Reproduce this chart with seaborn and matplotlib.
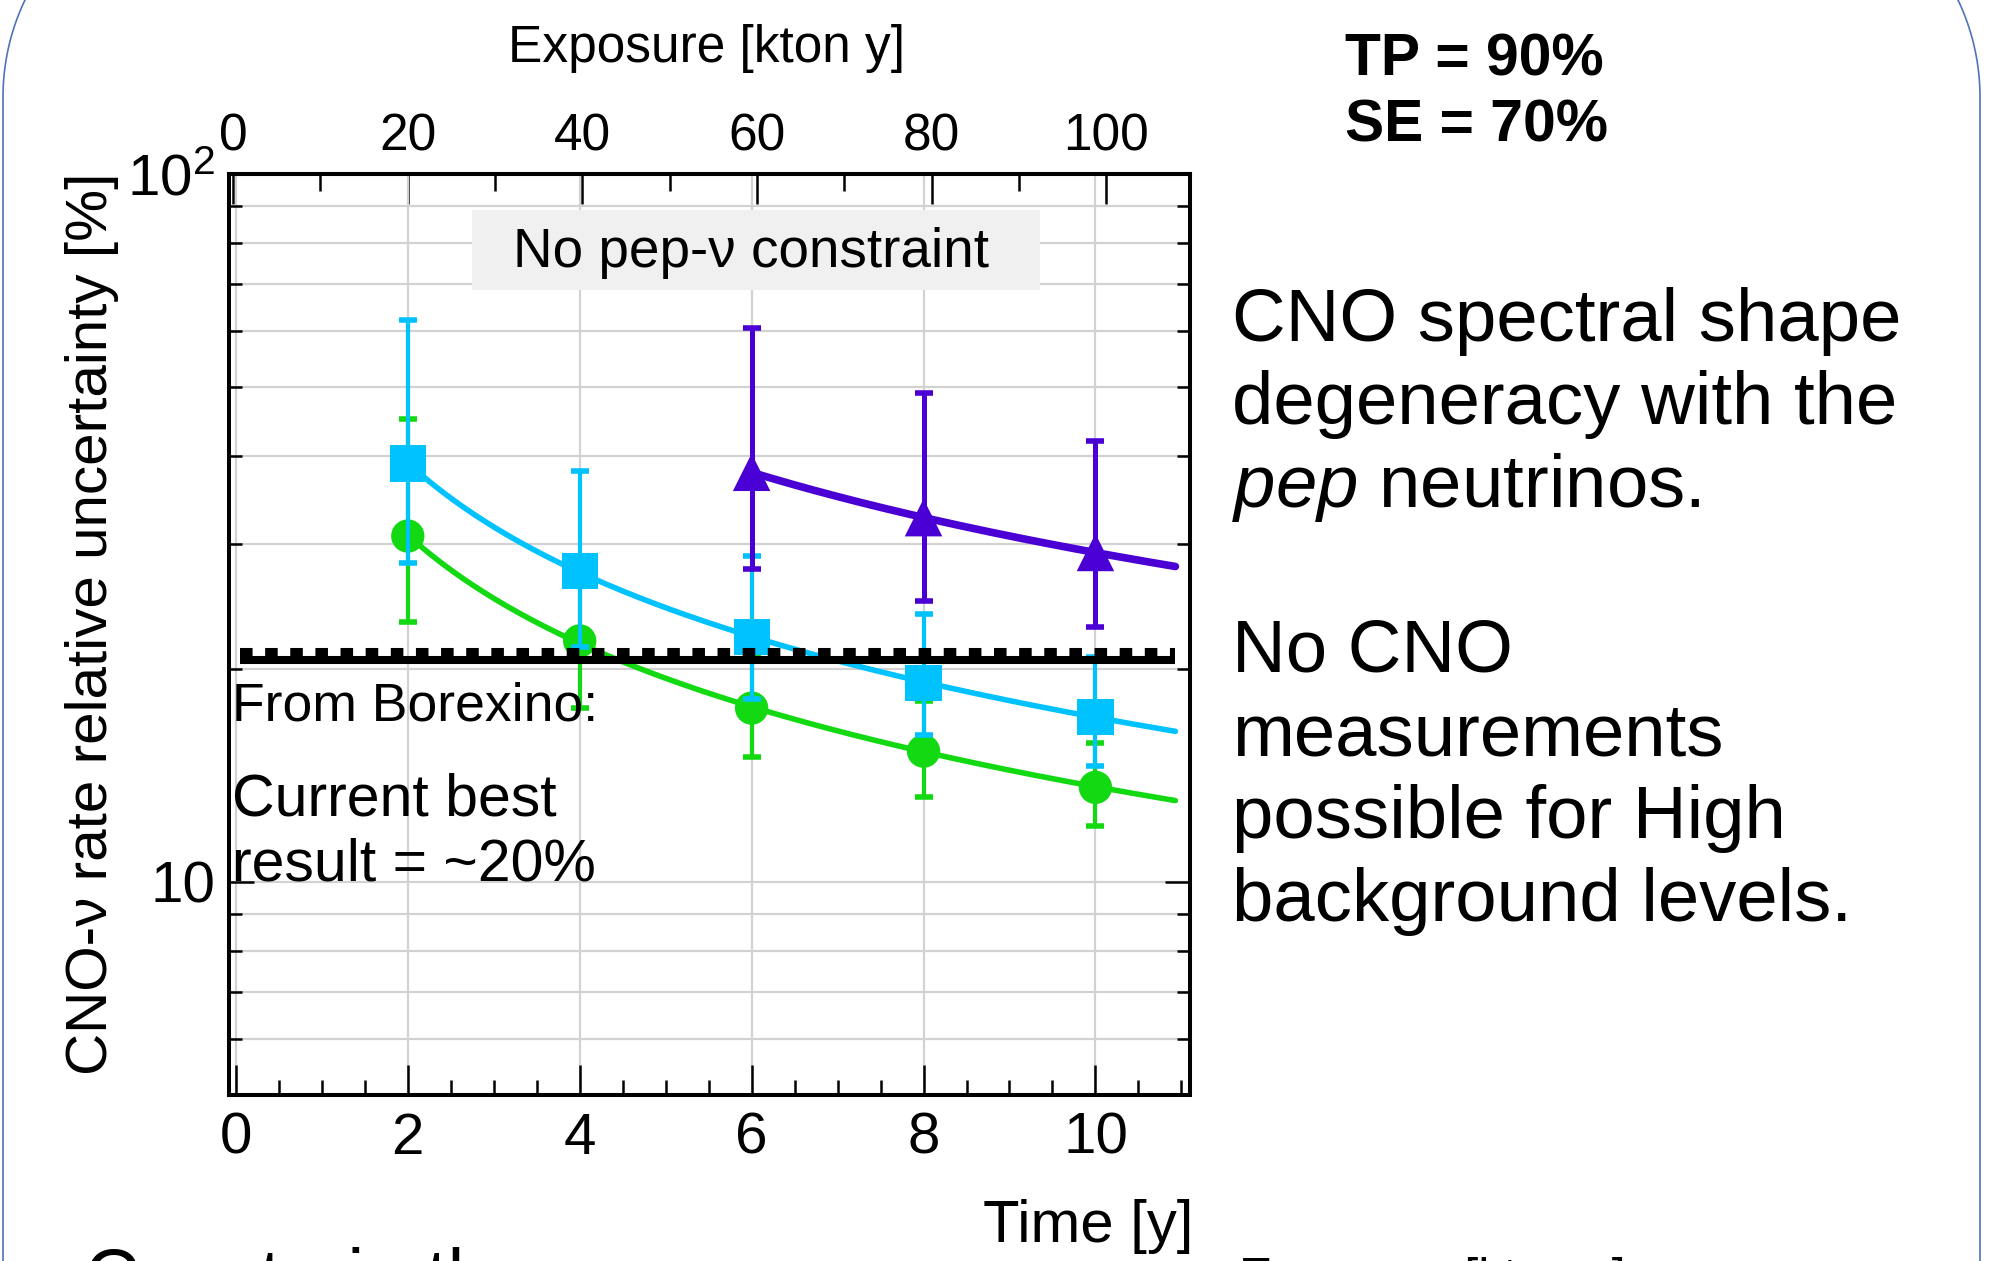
import numpy as np
import matplotlib
matplotlib.use("Agg")
import matplotlib.pyplot as plt
import seaborn as sns
from matplotlib import transforms, ticker
from matplotlib.patches import Rectangle
from matplotlib.lines import Line2D

# ---------------- data ----------------
time_years = [2, 4, 6, 8, 10]

green_val = [30.8, 21.9, 17.6, 15.3, 13.6]
green_lo = [23.3, 17.6, 15.0, 13.2, 12.0]
green_hi = [45.1, 27.0, 21.0, 18.0, 15.7]

cyan_val = [39.0, 27.5, 22.2, 19.1, 17.1]
cyan_lo = [28.2, 21.5, 18.1, 16.1, 14.6]
cyan_hi = [62.2, 38.0, 28.9, 23.9, 20.8]

purple_time = [6, 8, 10]
purple_val = [37.9, 32.7, 29.2]
purple_lo = [27.7, 24.9, 22.9]
purple_hi = [60.5, 49.0, 41.9]

borexino_best = 20.55          # current best result line [%]
exposure_per_year = 9.84       # kton y per year (top axis)
exposure_offset_years = 0.035  # small offset of the top axis

x_ticks = [0, 2, 4, 6, 8, 10]
exposure_ticks = [0, 20, 40, 60, 80, 100]
y_major = [10, 100]
y_minor = [6, 7, 8, 9, 20, 30, 40, 50, 60, 70, 80, 90]

# ---------------- style ----------------
sns.set_theme(style="white")
plt.rcParams["font.family"] = ["Liberation Sans", "DejaVu Sans"]
plt.rcParams["mathtext.fontset"] = "custom"
plt.rcParams["mathtext.rm"] = "Liberation Sans"
plt.rcParams["mathtext.it"] = "Liberation Sans:italic"
plt.rcParams["mathtext.bf"] = "Liberation Sans:bold"
for k in ["text.color", "axes.labelcolor", "xtick.color", "ytick.color", "axes.edgecolor"]:
    plt.rcParams[k] = "black"

GREEN = "#12d912"
CYAN = "#00c2ff"
PURPLE = "#4a00d4"
GRID = "#d2d2d2"

W, H = 1996, 1261
fig = plt.figure(figsize=(W / 100, H / 100), dpi=100)
fig.patch.set_facecolor("white")


def fx(px):
    return px / W


def fy(py):
    return (H - py) / H


ax = fig.add_axes([fx(229), fy(1095), (1190 - 229) / W, (1095 - 174) / H])
ax.set_yscale("log")
ax.set_xlim(-0.08, 11.10)
ax.set_ylim(5, 100)
ax.set_axisbelow(True)

ax.xaxis.set_major_locator(ticker.FixedLocator(x_ticks))
ax.xaxis.set_minor_locator(ticker.MultipleLocator(0.5))
ax.yaxis.set_major_locator(ticker.FixedLocator(y_major))
ax.yaxis.set_minor_locator(ticker.FixedLocator(y_minor))
ax.yaxis.set_minor_formatter(ticker.NullFormatter())
ax.yaxis.set_major_formatter(
    ticker.FuncFormatter(lambda v, p: "10" if v < 50 else r"$10^{2}$"))
ax.xaxis.grid(True, which="major", color=GRID, lw=1.6)
ax.yaxis.grid(True, which="both", color=GRID, lw=1.6)

# label box
ax.add_patch(Rectangle((0.2529, 0.874), 0.8439 - 0.2529, 0.961 - 0.874,
                       transform=ax.transAxes, facecolor="#f0f0f0",
                       edgecolor="none", zorder=1))
ax.text(0.5432, 0.8993, "No pep-ν constraint", transform=ax.transAxes,
        ha="center", va="baseline", fontsize=39.5, zorder=1.1)

curve_end = 10.93


def draw_series(t, val, lo, hi, color, marker, msize, lw_curve, lw_err, z):
    t = np.asarray(t, float)
    val = np.asarray(val, float)
    yerr = [val - np.asarray(lo), np.asarray(hi) - val]
    ax.errorbar(t, val, yerr=yerr, fmt="none", ecolor=color, elinewidth=lw_err,
                capsize=6.5, capthick=4.0, zorder=z)
    coef = np.polyfit(np.log(t), np.log(val), 1)
    tt = np.linspace(t[0], curve_end, 200)
    yy = np.exp(np.polyval(coef, np.log(tt)))
    sns.lineplot(x=tt, y=yy, ax=ax, color=color, lw=lw_curve, sort=False,
                 errorbar=None, legend=False, zorder=z + 0.1)
    sns.scatterplot(x=t, y=val, ax=ax, marker=marker, s=msize ** 2, color=color,
                    edgecolor="none", linewidth=0, legend=False, zorder=z + 0.2)


draw_series(time_years, green_val, green_lo, green_hi, GREEN, "o", 24, 4.0, 3.0, 2.0)
draw_series(time_years, cyan_val, cyan_lo, cyan_hi, CYAN, "s", 26, 4.0, 3.0, 2.3)
draw_series(purple_time, purple_val, purple_lo, purple_hi, PURPLE, "^", 27, 5.5, 3.6, 2.6)

# Borexino line (solid with square dashes on top)
bx = [0.05, curve_end]
by = [borexino_best, borexino_best]
ax.plot(bx, by, color="black", lw=5.8, solid_capstyle="butt", zorder=3)
up = transforms.offset_copy(ax.transData, fig=fig, x=0, y=5.76, units="points")
ax.plot(bx, by, color="black", lw=5.8, dash_capstyle="butt",
        linestyle=(0, (1.56, 1.56)), transform=up, zorder=3)

ax.text(-0.04, 16.88, "From Borexino:", fontsize=38.5, ha="left", va="baseline", zorder=4)
ax.text(-0.04, 12.4, "Current best", fontsize=42.5, ha="left", va="baseline", zorder=4)
ax.text(-0.04, 10.04, "result = ~20%", fontsize=42.5, ha="left", va="baseline", zorder=4)

# spines & ticks
for s in ax.spines.values():
    s.set_visible(True)
    s.set_color("black")
    s.set_linewidth(2.9)
ax.tick_params(axis="x", which="major", direction="in", length=21.6, width=1.8,
               labelsize=42, pad=12, top=False, bottom=True)
ax.tick_params(axis="x", which="minor", direction="in", length=10.8, width=1.8,
               top=False, bottom=True)
ax.tick_params(axis="y", which="major", direction="in", length=18, width=1.8,
               left=True, right=True, labelsize=42, pad=10)
ax.tick_params(axis="y", which="minor", direction="in", length=9.4, width=1.8,
               left=True, right=True)

ax.set_xlabel("Time [y]", fontsize=43, loc="right")
ax.xaxis.label.set_va("baseline")
ax.xaxis.set_label_coords((1193 - 229) / 961, (1095 - 1242) / 921)

ax.set_ylabel("CNO-ν rate relative uncertainty [%]", fontsize=42)
ax.yaxis.label.set_va("baseline")
ax.yaxis.set_label_coords((107 - 229) / 961, (1095 - 624) / 921)

secax = ax.secondary_xaxis(
    "top",
    functions=(lambda t: (t + exposure_offset_years) * exposure_per_year,
               lambda e: e / exposure_per_year - exposure_offset_years))
secax.xaxis.set_major_locator(ticker.FixedLocator(exposure_ticks))
secax.xaxis.set_minor_locator(ticker.MultipleLocator(10))
secax.tick_params(which="major", direction="in", length=21.6, width=1.8,
                  labelsize=37, pad=9)
secax.tick_params(which="minor", direction="in", length=12, width=1.8)
secax.spines["top"].set_linewidth(2.9)
secax.set_xlabel("Exposure [kton y]", fontsize=37)
secax.xaxis.label.set_va("baseline")
secax.xaxis.label.set_ha("center")
secax.xaxis.set_label_coords((706 - 229) / 961, (1095 - 62) / 921,
                             transform=ax.transAxes)

# ---------------- slide texts ----------------
fig.text(fx(1345), fy(76), "TP = 90%", fontsize=42.3, fontweight="bold", ha="left", va="baseline")
fig.text(fx(1345), fy(141), "SE = 70%", fontsize=42.3, fontweight="bold", ha="left", va="baseline")

right_lines = [("CNO spectral shape", 341), ("degeneracy with the", 424),
               (r"$\mathit{pep}$ neutrinos.", 507), ("No CNO", 672),
               ("measurements", 755), ("possible for High", 838),
               ("background levels.", 921)]
for txt, base in right_lines:
    fig.text(fx(1232), fy(base), txt, fontsize=53.6, ha="left", va="baseline")

fig.text(fx(85), fy(1301), "Constrain the pep", fontsize=54, ha="left", va="baseline")
fig.text(fx(1239), fy(1293), "Exposure [kton y]", fontsize=36, ha="left", va="baseline")

# slide frame: rounded rectangle outline with circular corners (display pixels)
r = 225.0
left_x, right_x = 3.0, 1980.0
cy = H - 97.0
ang = np.linspace(np.pi / 2, np.pi, 60)
lx = np.concatenate([left_x + r + r * np.cos(ang), [left_x]])
ly = np.concatenate([cy + r * np.sin(ang), [-20.0]])
rx = np.concatenate([right_x - r - r * np.cos(ang), [right_x]])
for xs, ys in [(lx, ly), (rx, ly)]:
    fig.add_artist(Line2D(xs, ys, transform=transforms.IdentityTransform(),
                          color="#4f74b8", lw=1.2, clip_on=False))

fig.savefig("out.png", dpi=100, facecolor="white")
